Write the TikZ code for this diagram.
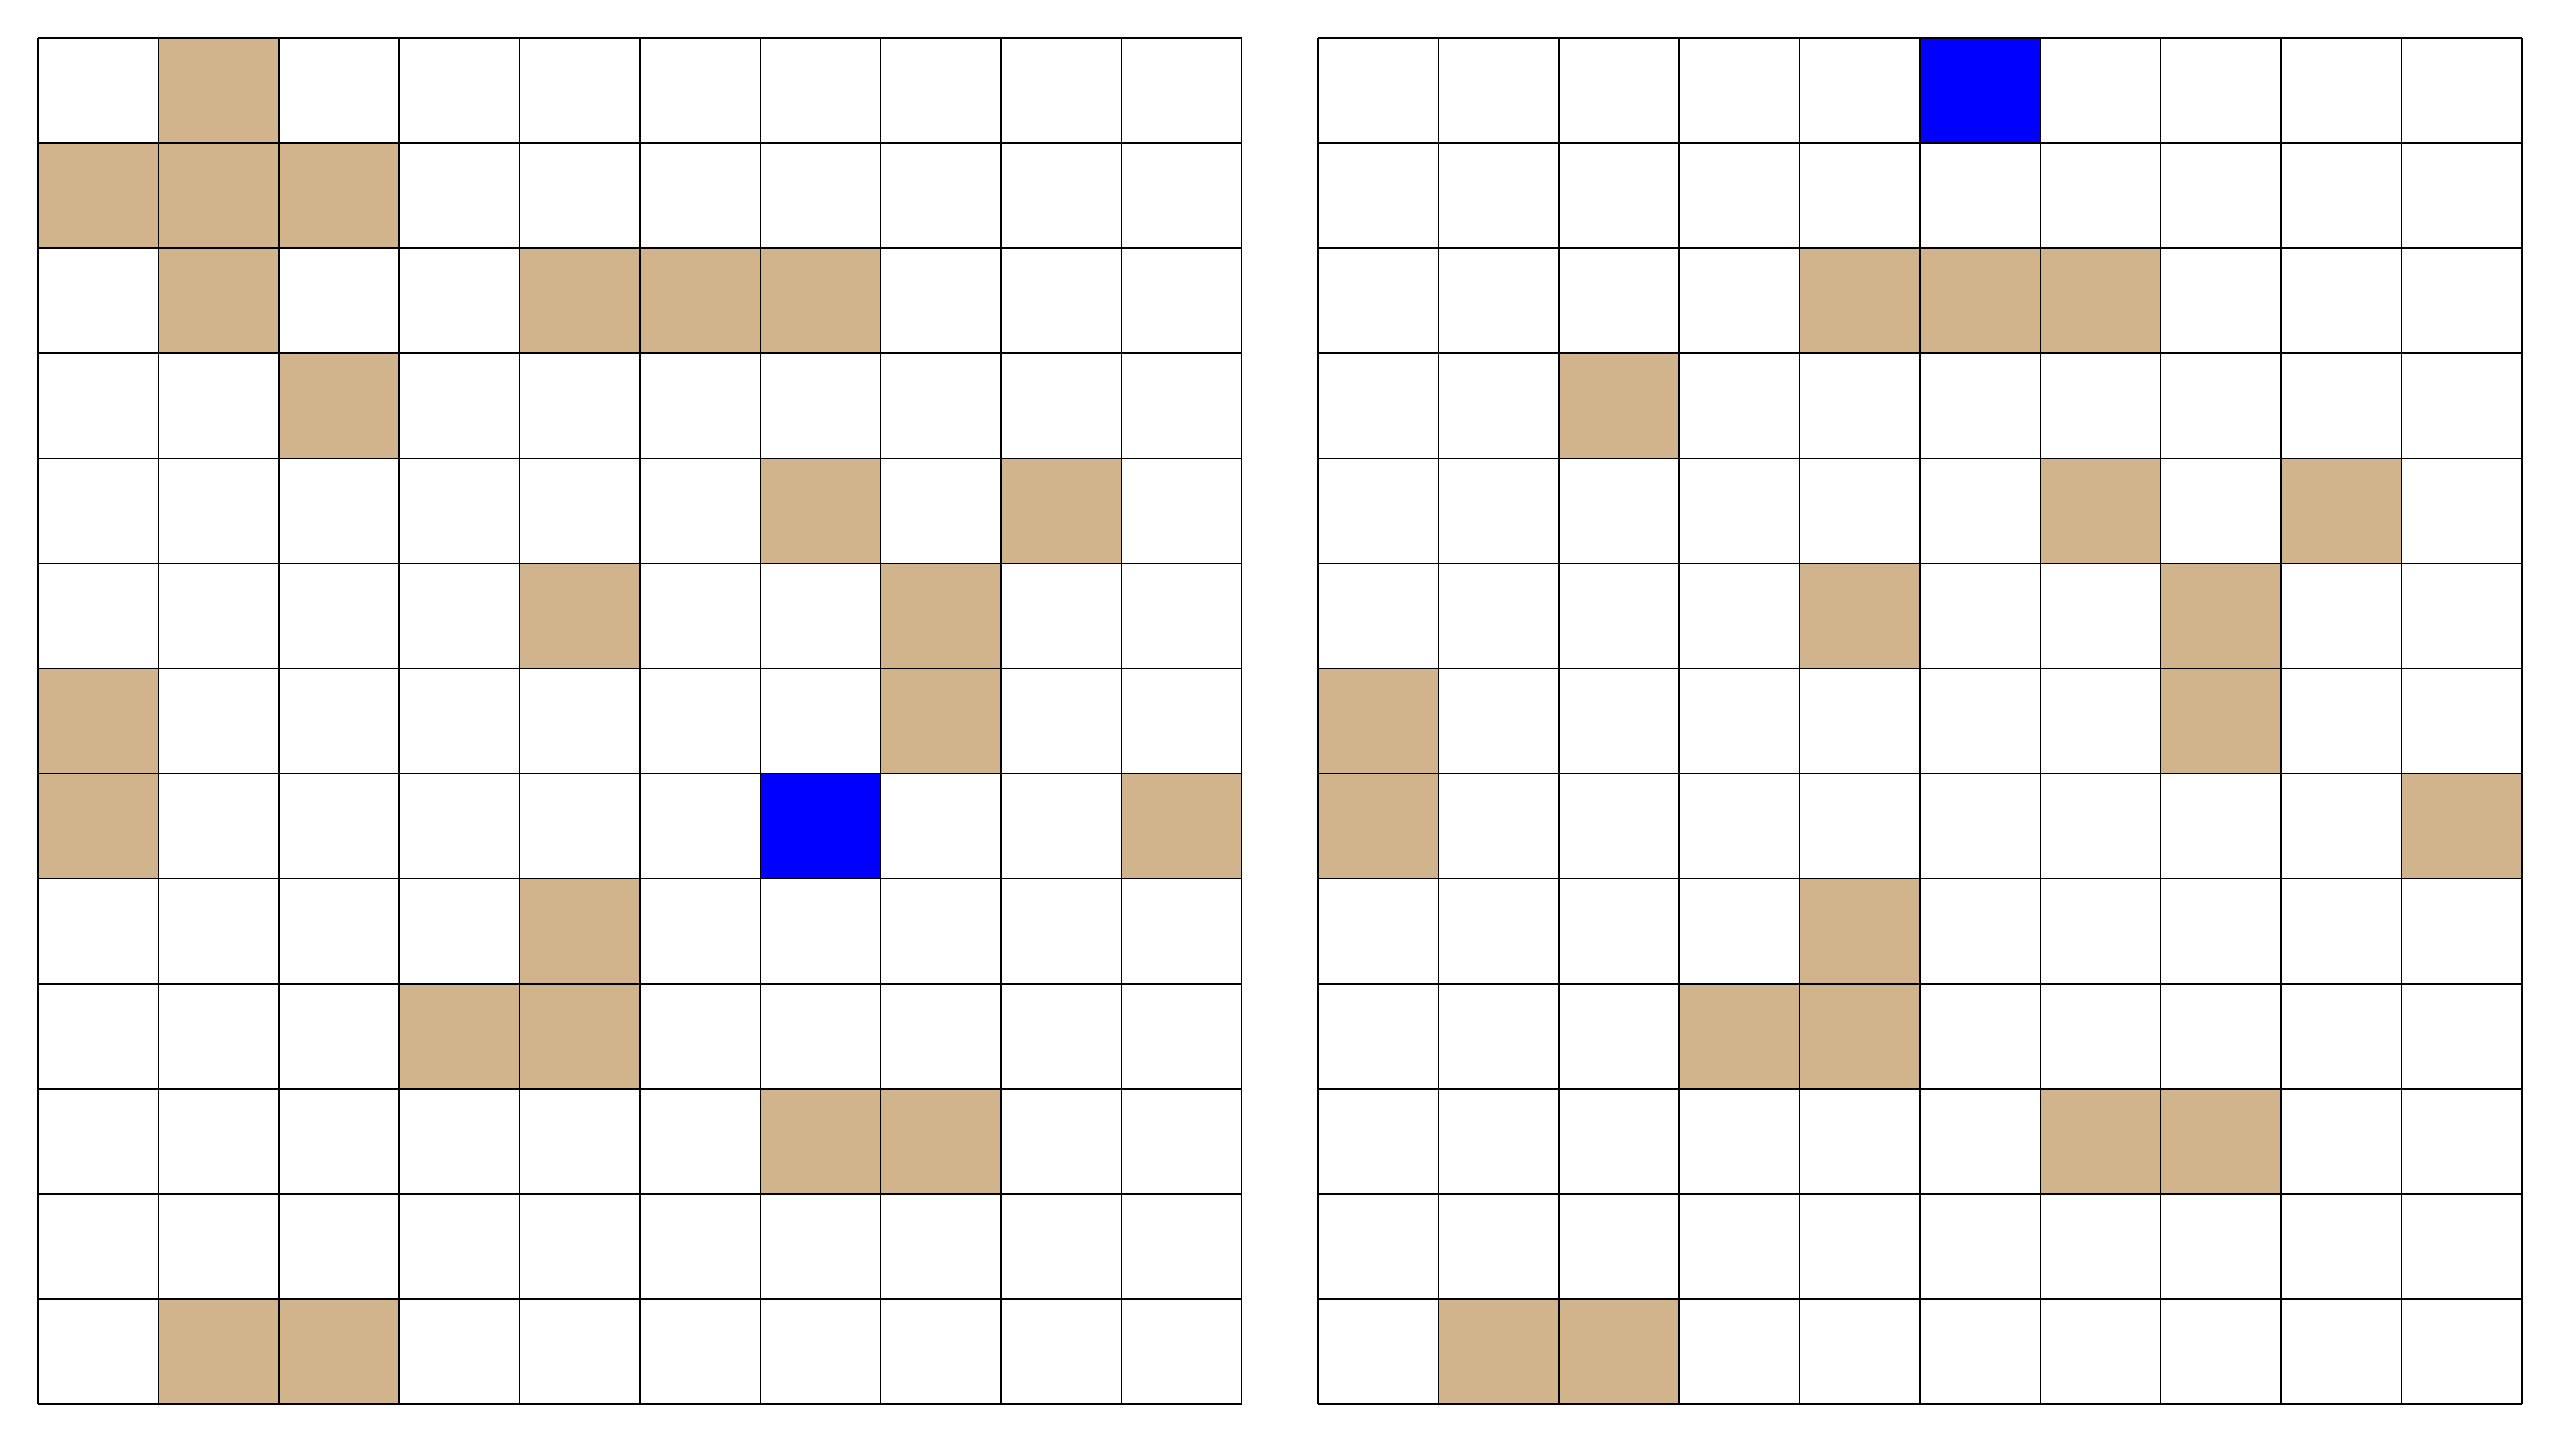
\documentclass[tikz,border=0pt]{standalone}
\usepackage{tikz}
\definecolor{walltan}{RGB}{210,180,140}

\begin{document}
\begin{tikzpicture}[x=1cm, y=0.8732cm,
  wall/.style={fill=walltan},
  agent/.style={fill=blue},
  gridline/.style={draw=black, line width=0.35pt}
]
\useasboundingbox (-0.316cm,-0.297cm) rectangle (20.952cm,11.666cm);

% Left board: walls and agent
\foreach \c/\r in {1/0, 0/1, 1/1, 2/1, 1/2, 4/2, 5/2, 6/2, 2/3, 6/4, 8/4, 4/5, 7/5,
                   0/6, 7/6, 0/7, 9/7, 4/8, 3/9, 4/9, 6/10, 7/10, 1/12, 2/12}
  \path[wall] ({\c},{12-\r}) rectangle ++(1,1);
\path[agent] (6,5) rectangle ++(1,1);
\foreach \i in {0,...,10}
  \draw[gridline] (\i,0) -- (\i,13);
\foreach \j in {0,...,13}
  \draw[gridline] (0,\j) -- (10,\j);

% Right board: agent moved to the top
\begin{scope}[xshift=10.634cm]
\foreach \c/\r in {4/2, 5/2, 6/2, 2/3, 6/4, 8/4, 4/5, 7/5,
                   0/6, 7/6, 0/7, 9/7, 4/8, 3/9, 4/9, 6/10, 7/10, 1/12, 2/12}
  \path[wall] ({\c},{12-\r}) rectangle ++(1,1);
\path[agent] (5,12) rectangle ++(1,1);
\foreach \i in {0,...,10}
  \draw[gridline] (\i,0) -- (\i,13);
\foreach \j in {0,...,13}
  \draw[gridline] (0,\j) -- (10,\j);
\end{scope}

\end{tikzpicture}
\end{document}
